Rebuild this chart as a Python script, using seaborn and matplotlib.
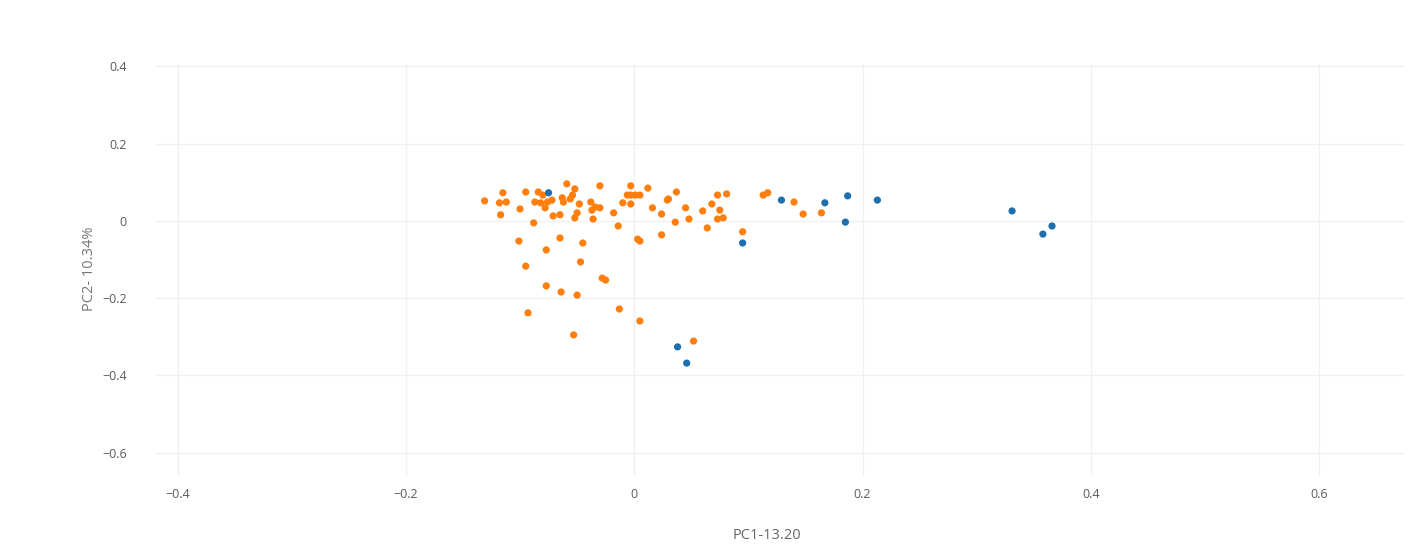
import matplotlib
matplotlib.use("Agg")
import matplotlib.pyplot as plt
import seaborn as sns
import pandas as pd

# group A (orange)
a_pc1 = [-0.131, -0.115, -0.118, -0.112, -0.117, -0.095, -0.100, -0.084, -0.080, -0.087,
         -0.082, -0.076, -0.078, -0.072, -0.059, -0.052, -0.063, -0.062, -0.054, -0.056,
         -0.088, -0.071, -0.065, -0.050, -0.052, -0.048, -0.038, -0.037, -0.034, -0.030,
         -0.030, -0.036, -0.018, -0.014, -0.003, -0.006, -0.003, 0.001, 0.005, -0.010,
         -0.003, 0.012, 0.016, 0.029, 0.024, 0.024, 0.003, 0.005, -0.101, -0.065,
         -0.045, -0.077, -0.047, -0.095, -0.025, -0.028, -0.077, -0.064, -0.050, -0.093,
         -0.013, 0.005, -0.053, 0.052, 0.037, 0.030, 0.045, 0.036, 0.048, 0.060,
         0.068, 0.075, 0.073, 0.081, 0.073, 0.078, 0.064, 0.095, 0.113, 0.117,
         0.140, 0.148, 0.164]
a_pc2 = [0.052, 0.073, 0.047, 0.049, 0.016, 0.075, 0.031, 0.075, 0.067, 0.049,
         0.047, 0.049, 0.034, 0.054, 0.096, 0.083, 0.060, 0.049, 0.067, 0.057,
         -0.005, 0.013, 0.016, 0.021, 0.008, 0.044, 0.049, 0.028, 0.036, 0.091,
         0.034, 0.005, 0.021, -0.013, 0.091, 0.067, 0.067, 0.067, 0.067, 0.047,
         0.044, 0.085, 0.034, 0.054, 0.018, -0.036, -0.047, -0.052, -0.052, -0.044,
         -0.057, -0.075, -0.106, -0.117, -0.153, -0.148, -0.168, -0.184, -0.192, -0.238,
         -0.228, -0.259, -0.295, -0.311, 0.075, 0.057, 0.034, -0.003, 0.005, 0.026,
         0.044, 0.028, 0.067, 0.070, 0.005, 0.008, -0.018, -0.028, 0.067, 0.073,
         0.049, 0.018, 0.021]

# group B (blue)
b_pc1 = [-0.075, 0.129, 0.167, 0.187, 0.185, 0.213, 0.095, 0.331, 0.366, 0.358, 0.038, 0.046]
b_pc2 = [0.073, 0.054, 0.047, 0.065, -0.003, 0.054, -0.057, 0.026, -0.013, -0.034, -0.326, -0.368]

x_ticks = [-0.4, -0.2, 0, 0.2, 0.4, 0.6]
x_tick_labels = ["\u22120.4", "\u22120.2", "0", "0.2", "0.4", "0.6"]
y_ticks = [0.4, 0.2, 0, -0.2, -0.4, -0.6]
y_tick_labels = ["0.4", "0.2", "0", "\u22120.2", "\u22120.4", "\u22120.6"]

df = pd.DataFrame({
    "PC1": a_pc1 + b_pc1,
    "PC2": a_pc2 + b_pc2,
    "group": ["A"] * len(a_pc1) + ["B"] * len(b_pc1),
})

sns.set_theme(style="white")
plt.rcParams["font.family"] = ["Open Sans", "DejaVu Sans"]

fig = plt.figure(figsize=(14.19, 5.54), dpi=100)
ax = fig.add_axes([0.109, 0.141, 0.881, 0.746])

sns.scatterplot(data=df, x="PC1", y="PC2", hue="group",
                palette={"A": "#ff7f0e", "B": "#1f6fae"},
                hue_order=["A", "B"], s=27, linewidth=0, ax=ax, legend=False, zorder=3)

ax.set_xlim(-0.42, 0.675)
ax.set_ylim(-0.66, 0.41)
ax.set_xticks(x_ticks)
ax.set_xticklabels(x_tick_labels)
ax.set_yticks(y_ticks)
ax.set_yticklabels(y_tick_labels)
ax.grid(True, color="#f1f1f1", linewidth=1)
ax.set_axisbelow(True)
for sp in ax.spines.values():
    sp.set_visible(False)
ax.tick_params(axis="both", length=0, labelsize=9, labelcolor="#5a5a5a")
ax.tick_params(axis="y", pad=20)
ax.tick_params(axis="x", pad=9)

ax.set_xlabel("PC1-13.20", fontsize=10.5, color="#666666")
ax.set_ylabel("PC2- 10.34%", fontsize=10.5, color="#777777")
ax.xaxis.set_label_coords(0.49, -0.125)
ax.yaxis.set_label_coords(-0.046, 0.5)

fig.savefig("out.png", dpi=100)
